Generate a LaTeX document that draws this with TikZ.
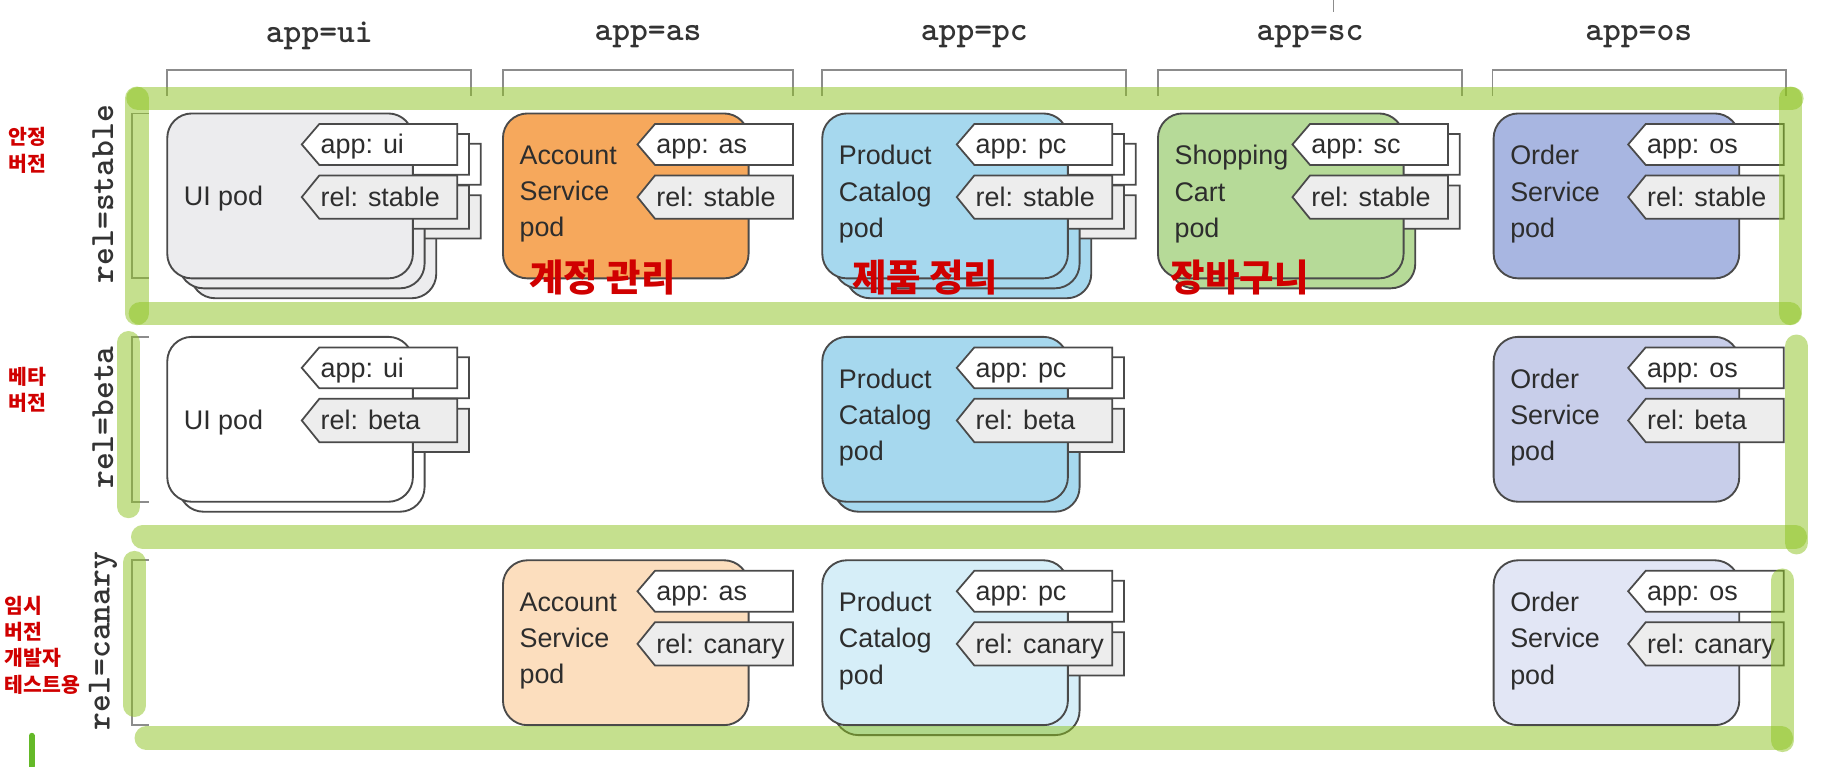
\documentclass[tikz,border=0pt]{standalone}
\usepackage{fontspec}
\setmainfont{Liberation Sans}
\newfontfamily\krfont{Noto Sans CJK KR}
\newfontfamily\hdrfont{Latin Modern Mono Light}
\definecolor{cardline}{HTML}{4A4A4A}
\definecolor{brk}{HTML}{8C8C8C}
\definecolor{hl}{RGB}{140,195,30}
\definecolor{hldark}{RGB}{100,185,40}
\definecolor{uigray}{RGB}{236,236,238}
\definecolor{relfill}{RGB}{237,237,237}
\definecolor{asO}{RGB}{246,168,92}
\definecolor{asL}{RGB}{252,222,190}
\definecolor{pcB}{RGB}{166,216,238}
\definecolor{pcL}{RGB}{214,238,248}
\definecolor{scG}{RGB}{182,218,152}
\definecolor{osP}{RGB}{168,182,225}
\definecolor{osM}{RGB}{200,206,234}
\definecolor{osL}{RGB}{226,230,245}
\definecolor{krred}{RGB}{208,0,0}
\definecolor{txt}{RGB}{45,45,45}
\tikzset{
  cardst/.style={draw=cardline, line width=1.6, rounded corners=21},
  tagst/.style={draw=cardline, line width=1.5, line join=miter},
  podtxt/.style={anchor=west, align=left, inner sep=0, text=txt, font=\fontsize{23}{31}\selectfont},
  tagtxt/.style={anchor=base west, inner sep=0, text=txt, font=\fontsize{23}{26}\selectfont},
  hdr/.style={inner sep=0, text=black!80, font=\hdrfont\bfseries\fontsize{29}{30}\selectfont},
  brkst/.style={draw=brk, line width=1.6},
  hlst/.style={draw=hl, draw opacity=0.5, line width=20, line cap=round},
  kr/.style={inner sep=0, text=krred, font=\krfont\bfseries\fontsize{32}{34}\selectfont},
  krs/.style={inner sep=0, anchor=west, align=left, text=krred, font=\krfont\bfseries\fontsize{17.5}{22.5}\selectfont},
}
% one card with its two tags, no text
\newcommand\podunit[3]{%
  \draw[cardst, fill=#3] (#1,#2) rectangle ++(210,141);
  \draw[tagst, fill=white] (#1+115,#2+26.5) -- (#1+130,#2+9) -- (#1+248,#2+9) -- (#1+248,#2+44) -- (#1+130,#2+44) -- cycle;
  \draw[tagst, fill=relfill] (#1+115,#2+71.5) -- (#1+130,#2+53) -- (#1+248,#2+53) -- (#1+248,#2+90) -- (#1+130,#2+90) -- cycle;
}
% name, x, y, number of copies behind, fill, pod text, app tag, rel tag, text y offset
\newcommand\podset[9]{%
  \ifnum#4>1 \podunit{#2+20}{#3+17}{#5}\fi
  \ifnum#4>0 \podunit{#2+10}{#3+8.5}{#5}\fi
  \podunit{#2}{#3}{#5}
  \node[podtxt] (#1-t) at (#2+14,#3+69+#9) {#6};
  \node[tagtxt] (#1-a) at (#2+131,#3+34.5) {#7};
  \node[tagtxt] (#1-r) at (#2+131,#3+79.5) {#8};
}
\begin{document}
\begin{tikzpicture}[x=1pt, y=-1pt]
\useasboundingbox (0,0) rectangle (1568,655);
\fill[white] (0,0) rectangle (1568,655);
% tiny mark at top
\draw[brk, line width=0.8] (1140,0) -- (1140,10);
% column headers and brackets
\node[hdr] (h-ui) at (273,31) {app=ui};
\node[hdr] (h-as) at (554,31) {app=as};
\node[hdr] (h-pc) at (833,31) {app=pc};
\node[hdr] (h-sc) at (1120,31) {app=sc};
\node[hdr] (h-os) at (1401,31) {app=os};
\draw[brkst] (143,82) -- (143,60) -- (403,60) -- (403,82);
\draw[brkst] (430,82) -- (430,60) -- (678,60) -- (678,82);
\draw[brkst] (703,82) -- (703,60) -- (963,60) -- (963,82);
\draw[brkst] (990,82) -- (990,60) -- (1250,60) -- (1250,82);
\draw[brkst] (1276,82) -- (1276,60) -- (1527,60) -- (1527,82);
% row labels and brackets
\node[hdr, rotate=90] (r-st) at (88,166) {rel=stable};
\node[hdr, rotate=90] (r-be) at (88,357) {rel=beta};
\node[hdr, rotate=90] (r-ca) at (88,548) {rel=canary};
\draw[brkst] (127,97) -- (113,97) -- (113,238) -- (127,238);
\draw[brkst] (127,288) -- (113,288) -- (113,429) -- (127,429);
\draw[brkst] (127,479) -- (113,479) -- (113,620) -- (127,620);
% stable row
\podset{ui1}{143}{97}{2}{uigray}{UI pod}{app: ui}{rel: stable}{4}
\podset{as1}{430}{97}{0}{asO}{Account\\Service\\pod}{app: as}{rel: stable}{0}
\podset{pc1}{703}{97}{2}{pcB}{Product\\Catalog\\pod}{app: pc}{rel: stable}{0}
\podset{sc1}{990}{97}{1}{scG}{Shopping\\Cart\\pod}{app: sc}{rel: stable}{0}
\podset{os1}{1277}{97}{0}{osP}{Order\\Service\\pod}{app: os}{rel: stable}{0}
% beta row
\podset{ui2}{143}{288}{1}{white}{UI pod}{app: ui}{rel: beta}{4}
\podset{pc2}{703}{288}{1}{pcB}{Product\\Catalog\\pod}{app: pc}{rel: beta}{0}
\podset{os2}{1277}{288}{0}{osM}{Order\\Service\\pod}{app: os}{rel: beta}{0}
% canary row
\podset{as3}{430}{479}{0}{asL}{Account\\Service\\pod}{app: as}{rel: canary}{0}
\podset{pc3}{703}{479}{1}{pcL}{Product\\Catalog\\pod}{app: pc}{rel: canary}{0}
\podset{os3}{1277}{479}{0}{osL}{Order\\Service\\pod}{app: os}{rel: canary}{0}
% green highlight strokes
\coordinate (g1a) at (118,84);  \coordinate (g1b) at (1532,84);
\coordinate (g2a) at (117,84);  \coordinate (g2b) at (117,268);
\coordinate (g3a) at (120,268); \coordinate (g3b) at (1530,268);
\coordinate (g4a) at (1531,84); \coordinate (g4b) at (1531,268);
\coordinate (g5a) at (110,293); \coordinate (g5b) at (110,433);
\coordinate (g6a) at (122,459); \coordinate (g6b) at (1535,459);
\coordinate (g7a) at (1536,296); \coordinate (g7b) at (1536,464);
\coordinate (g8a) at (115,481); \coordinate (g8b) at (115,603);
\coordinate (g9a) at (125,631); \coordinate (g9b) at (1523,631);
\coordinate (g10a) at (1524,496); \coordinate (g10b) at (1524,633);
\foreach \g in {1,...,10} { \draw[hlst] (g\g a) -- (g\g b); }
\coordinate (m1) at (27,629); \coordinate (m2) at (27,655);
\draw[draw=hldark, line width=5, line cap=round] (m1) -- (m2);
% red annotations
\node[kr] (k1) at (515,237) {계정 관리};
\node[kr] (k2) at (791,237) {제품 정리};
\node[kr] (k3) at (1060,237) {장바구니};
\node[krs] (k4) at (7,128.5) {안정\\버전};
\node[krs] (k5) at (7,333.5) {베타\\버전};
\node[krs] (k6) at (4,551.5) {임시\\버전\\개발자\\테스트용};
\end{tikzpicture}
\end{document}
